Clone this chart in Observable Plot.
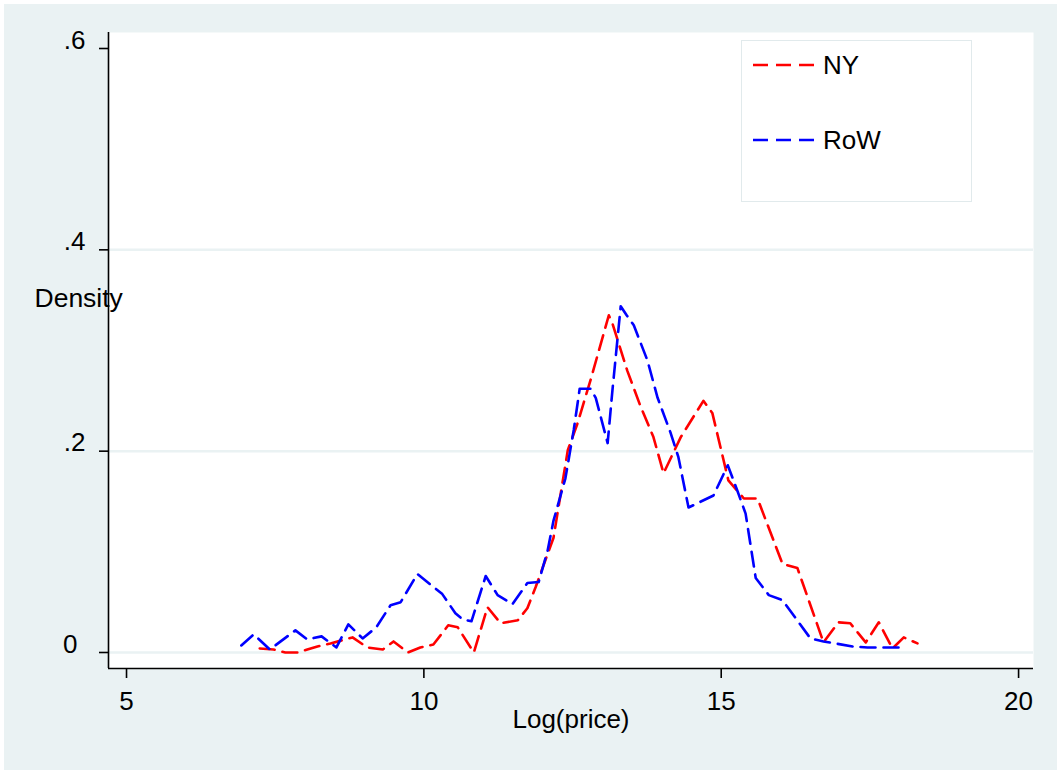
<!DOCTYPE html>
<html>
<head>
<meta charset="utf-8">
<script src="https://cdn.jsdelivr.net/npm/d3@7"></script>
<script src="https://cdn.jsdelivr.net/npm/@observablehq/plot@0.6"></script>
<style>
  html, body { margin: 0; padding: 0; background: #ffffff; }
  #page { position: relative; width: 1061px; height: 774px; background: #ffffff; overflow: hidden; }
  #panel { position: absolute; left: 4px; top: 4px; right: 4px; bottom: 4px; background: #eaf2f3; }
  #chart { position: absolute; left: 0; top: 0; }
  #legend {
    position: absolute; left: 741px; top: 40px; width: 229px; height: 160px;
    background: #ffffff; border: 1.5px solid #e1eaec;
    font-family: "Liberation Sans", Arial, sans-serif; font-size: 26px; color: #000;
  }
  .item { position: absolute; left: 11px; height: 30px; display: flex; align-items: center; }
  .item svg { display: block; margin-right: 8px; }
</style>
</head>
<body>
<div id="page">
  <div id="panel"></div>
  <div id="chart"></div>
  <div id="legend"></div>
</div>
<script>
// Density of log price, New York vs rest of world
const nyX = [7.24,7.47,7.67,7.88,8.04,8.21,8.43,8.80,9.05,9.31,9.49,9.73,9.94,10.16,10.41,10.57,10.84,11.07,11.29,11.58,11.74,11.88,12.18,12.42,12.58,12.80,13.11,13.17,13.42,13.64,13.86,14.03,14.32,14.70,14.85,15.12,15.38,15.61,16.03,16.28,16.72,16.97,17.17,17.43,17.65,17.88,18.07,18.30];
const nyY = [0.004,0.003,0.000,0.000,0.003,0.006,0.009,0.015,0.005,0.003,0.011,0.000,0.005,0.008,0.027,0.025,0.000,0.045,0.029,0.032,0.044,0.065,0.114,0.201,0.227,0.270,0.335,0.327,0.280,0.245,0.214,0.178,0.214,0.250,0.238,0.171,0.153,0.153,0.088,0.084,0.010,0.030,0.029,0.010,0.030,0.004,0.015,0.009];

const rowX = [6.93,7.14,7.41,7.84,8.04,8.28,8.53,8.73,8.97,9.20,9.44,9.61,9.89,10.31,10.53,10.65,10.80,11.04,11.24,11.49,11.74,11.93,12.08,12.18,12.38,12.52,12.62,12.80,12.89,13.09,13.17,13.31,13.41,13.53,13.76,13.93,14.15,14.28,14.45,14.87,15.11,15.27,15.41,15.58,15.80,16.03,16.50,16.72,17.21,17.46,18.02];
const rowY = [0.007,0.018,0.003,0.022,0.013,0.016,0.005,0.028,0.014,0.025,0.047,0.050,0.078,0.058,0.039,0.033,0.031,0.076,0.057,0.048,0.069,0.070,0.101,0.131,0.173,0.221,0.262,0.262,0.253,0.208,0.260,0.344,0.335,0.325,0.290,0.253,0.218,0.194,0.144,0.156,0.186,0.161,0.138,0.074,0.057,0.052,0.014,0.011,0.006,0.005,0.005];

const seriesNames = ["NY", "RoW"];
const seriesColors = ["#ff0000", "#0000ff"];

const xTicks = [5, 10, 15, 20];
const yTicks = [0, 0.2, 0.4, 0.6];
const yTickLabels = ["0", ".2", ".4", ".6"];
const gridTicks = [0, 0.2, 0.4];

const xDomain = [4.697, 20.251];
const yDomain = [-0.0159, 0.6159];

const dash = "15,8";
const font = "'Liberation Sans', Arial, sans-serif";

const ny = nyX.map((x, i) => ({x, y: nyY[i]}));
const row = rowX.map((x, i) => ({x, y: rowY[i]}));
const yLabels = yTicks.map((v, i) => ({v, label: yTickLabels[i]}));

const chart = Plot.plot({
  width: 1061,
  height: 774,
  marginLeft: 108,
  marginRight: 28,
  marginTop: 32,
  marginBottom: 106,
  style: {background: "transparent", fontFamily: font, color: "#000", overflow: "visible"},
  x: {domain: xDomain},
  y: {domain: yDomain},
  marks: [
    Plot.frame({fill: "#ffffff", stroke: null}),
    Plot.ruleY(gridTicks, {stroke: "#eaf2f3", strokeWidth: 2.5}),
    Plot.line(ny, {x: "x", y: "y", stroke: seriesColors[0], strokeWidth: 2.6, strokeDasharray: dash}),
    Plot.line(row, {x: "x", y: "y", stroke: seriesColors[1], strokeWidth: 2.6, strokeDasharray: dash}),
    // axis lines
    Plot.ruleX([xDomain[0]], {stroke: "#000", strokeWidth: 1.6}),
    Plot.ruleY([yDomain[0]], {stroke: "#000", strokeWidth: 1.6}),
    Plot.axisX(xTicks, {tickSize: 10, tickPadding: 13, fontSize: 26, label: null, stroke: "#000", strokeWidth: 1.6}),
    Plot.axisY(yTicks, {tickSize: 9, tickFormat: () => "", label: null, stroke: "#000", strokeWidth: 1.6}),
    // the zero label sits a little further left than the decimal labels
    Plot.text(yLabels.filter(d => d.v !== 0), {x: () => xDomain[0], y: "v", text: "label", textAnchor: "end", dx: -23, dy: -8, fontSize: 26, fill: "#000"}),
    Plot.text(yLabels.filter(d => d.v === 0), {x: () => xDomain[0], y: "v", text: "label", textAnchor: "end", dx: -31, dy: -8, fontSize: 26, fill: "#000"}),
    Plot.text(["Log(price)"], {frameAnchor: "bottom", dy: 59, fontSize: 26, fill: "#000"}),
    Plot.text(["Density"], {frameAnchor: "left", textAnchor: "start", dx: -74, dy: -52, fontSize: 26.5, fill: "#000"})
  ]
});
document.getElementById("chart").appendChild(chart);

// legend entries
const legend = document.getElementById("legend");
const tops = [9, 84];
seriesNames.forEach((name, i) => {
  const item = document.createElement("div");
  item.className = "item";
  item.style.top = tops[i] + "px";
  item.innerHTML = `<svg width="62" height="10"><line x1="0" y1="5" x2="62" y2="5" stroke="${seriesColors[i]}" stroke-width="2.6" stroke-dasharray="${dash}"/></svg><span>${name}</span>`;
  legend.appendChild(item);
});
</script>
</body>
</html>
